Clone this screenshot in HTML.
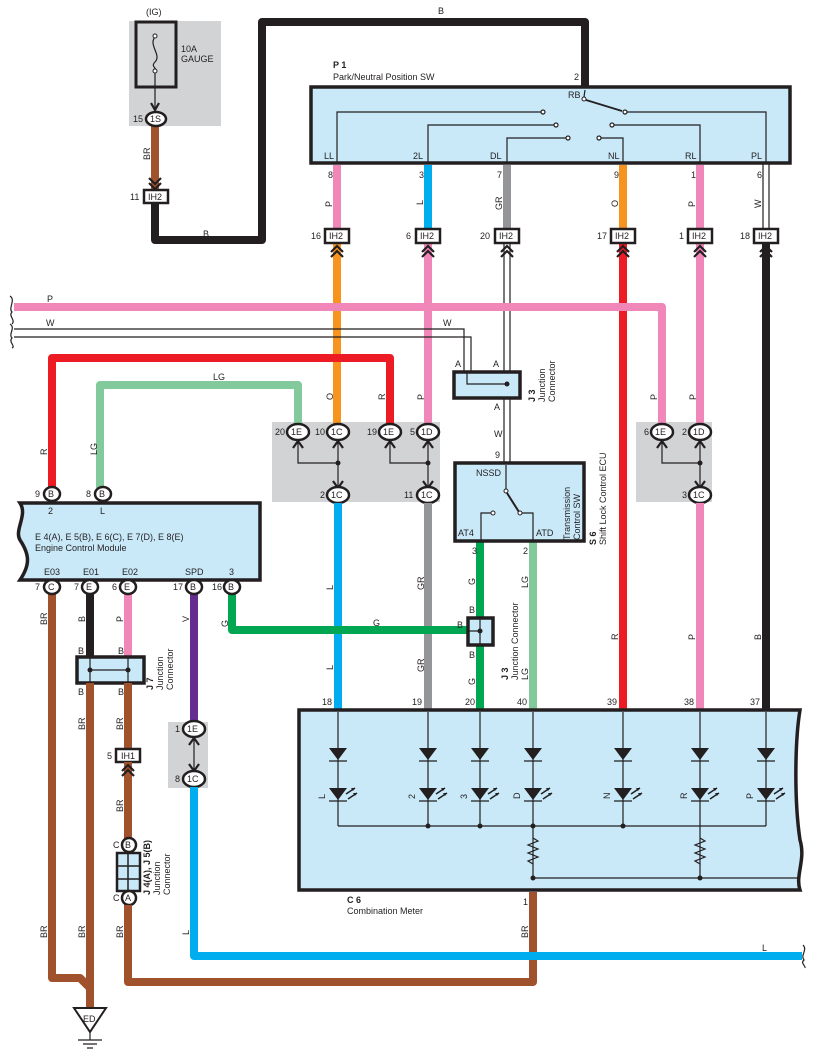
<!DOCTYPE html>
<html><head><meta charset="utf-8"><style>
html,body{margin:0;padding:0;background:#fff}
svg{display:block}
text{font-family:"Liberation Sans",sans-serif;font-size:9px;fill:#231f20}
.w{fill:none;stroke-linejoin:round;stroke-width:8}
.t{fill:none;stroke:#231f20;stroke-width:1.2}
.box{fill:#c9e9f9;stroke:#231f20;stroke-width:3.5}
.c{fill:#fff;stroke:#231f20;stroke-width:2.5}
.ch{fill:none;stroke:#231f20;stroke-width:2.2}
</style></head><body>
<svg width="817" height="1062" viewBox="0 0 817 1062" xmlns="http://www.w3.org/2000/svg">
<!-- gray boxes -->
<rect x="129" y="21" width="92" height="105" fill="#d1d3d4"/>
<rect x="272" y="422" width="168" height="80" fill="#d1d3d4"/>
<rect x="636" y="422" width="76" height="80" fill="#d1d3d4"/>
<rect x="168" y="722" width="40" height="66" fill="#d1d3d4"/>

<!-- fuse -->
<text x="146" y="15">(IG)</text>
<rect x="136" y="22" width="40" height="65" fill="none" stroke="#231f20" stroke-width="3"/>
<path d="M155 37 C148 45,162 55,155 62 C150 67,158 68,155 71" class="t" stroke-width="1.6"/>
<circle cx="155" cy="36" r="2" fill="#fff" stroke="#231f20"/><circle cx="155" cy="71" r="2" fill="#fff" stroke="#231f20"/>
<line x1="155" y1="73" x2="155" y2="110" class="t"/>
<path d="M151 103 L155 110 L159 103" class="ch"/>
<text x="181" y="52">10A</text><text x="181" y="62">GAUGE</text>

<!-- BR from fuse -->
<line x1="155" y1="126" x2="155" y2="190" stroke="#a0522d" stroke-width="8"/>
<ellipse cx="156" cy="119" rx="10" ry="7" class="c"/><text x="150" y="122">1S</text><text x="133" y="122">15</text>
<text x="150" y="160" transform="rotate(-90 150 160)">BR</text>
<path d="M149 178 L155 184 L161 178 M149 183 L155 189 L161 183" class="ch"/>
<rect x="144" y="190" width="24" height="13" fill="#fff" stroke="#231f20" stroke-width="2.5"/><text x="148" y="200">IH2</text><text x="130" y="200">11</text>
<path class="w" stroke="#231f20" d="M155 203 V240 H262 V22 H585 V86"/>
<text x="203" y="237">B</text><text x="438" y="14">B</text>

<!-- P1 box -->
<text x="333" y="68" font-weight="bold">P 1</text>
<text x="333" y="80">Park/Neutral Position SW</text>
<text x="574" y="80">2</text>
<rect x="311" y="87" width="479" height="76" class="box"/>
<text x="568" y="98">RB</text>
<circle cx="584" cy="99" r="2" fill="#fff" stroke="#231f20"/>
<line x1="585" y1="90" x2="584" y2="97" class="t"/>
<line x1="586" y1="100" x2="622" y2="111" stroke="#231f20" stroke-width="1.8"/>
<path class="t" d="M337 163 V112 H541 M428 163 V125 H554 M507 163 V138 H566 M601 138 H623 V163 M614 125 H700 V163 M627 112 H766 V163"/>
<g fill="#fff" stroke="#231f20" stroke-width="1.2">
<circle cx="543" cy="112" r="2"/><circle cx="556" cy="125" r="2"/><circle cx="568" cy="138" r="2"/>
<circle cx="599" cy="138" r="2"/><circle cx="612" cy="125" r="2"/><circle cx="625" cy="112" r="2"/></g>
<text x="324" y="159">LL</text><text x="413" y="159">2L</text><text x="490" y="159">DL</text><text x="608" y="159">NL</text><text x="685" y="159">RL</text><text x="751" y="159">PL</text>
<text x="328" y="178">8</text><text x="419" y="178">3</text><text x="497" y="178">7</text><text x="614" y="178">9</text><text x="691" y="178">1</text><text x="757" y="178">6</text>

<!-- wires P1 to IH2 -->
<line x1="337" y1="165" x2="337" y2="229" stroke="#f087b8" stroke-width="8"/>
<line x1="428" y1="165" x2="428" y2="229" stroke="#00aeef" stroke-width="8"/>
<line x1="507" y1="165" x2="507" y2="229" stroke="#939598" stroke-width="8"/>
<line x1="623" y1="165" x2="623" y2="229" stroke="#f7941d" stroke-width="8"/>
<line x1="700" y1="165" x2="700" y2="229" stroke="#f087b8" stroke-width="8"/>
<path d="M763 163 V229 M769 163 V229" class="t"/>
<g font-size="9">
<text x="332" y="207" transform="rotate(-90 332 207)">P</text>
<text x="423" y="205" transform="rotate(-90 423 205)">L</text>
<text x="502" y="210" transform="rotate(-90 502 210)">GR</text>
<text x="618" y="207" transform="rotate(-90 618 207)">O</text>
<text x="695" y="207" transform="rotate(-90 695 207)">P</text>
<text x="761" y="208" transform="rotate(-90 761 208)">W</text></g>

<!-- lower wires from IH2 -->
<line x1="337" y1="244" x2="337" y2="425" stroke="#f7941d" stroke-width="8"/>
<line x1="428" y1="244" x2="428" y2="425" stroke="#f087b8" stroke-width="8"/>
<path d="M504 244 V463 M510 244 V463" class="t"/>
<line x1="623" y1="244" x2="623" y2="710" stroke="#ed1c24" stroke-width="8"/>
<line x1="700" y1="244" x2="700" y2="425" stroke="#f087b8" stroke-width="8"/>
<line x1="766" y1="244" x2="766" y2="710" stroke="#231f20" stroke-width="8"/>

<!-- IH2 connectors -->
<g>
<rect x="325" y="229" width="24" height="14" fill="#fff" stroke="#231f20" stroke-width="2.5"/><text x="329" y="239">IH2</text><text x="311" y="239">16</text>
<rect x="416" y="229" width="24" height="14" fill="#fff" stroke="#231f20" stroke-width="2.5"/><text x="420" y="239">IH2</text><text x="406" y="239">6</text>
<rect x="495" y="229" width="24" height="14" fill="#fff" stroke="#231f20" stroke-width="2.5"/><text x="499" y="239">IH2</text><text x="480" y="239">20</text>
<rect x="611" y="229" width="24" height="14" fill="#fff" stroke="#231f20" stroke-width="2.5"/><text x="615" y="239">IH2</text><text x="597" y="239">17</text>
<rect x="688" y="229" width="24" height="14" fill="#fff" stroke="#231f20" stroke-width="2.5"/><text x="692" y="239">IH2</text><text x="679" y="239">1</text>
<rect x="754" y="229" width="24" height="14" fill="#fff" stroke="#231f20" stroke-width="2.5"/><text x="758" y="239">IH2</text><text x="740" y="239">18</text>
</g>
<g class="ch">
<path d="M331 252 L337 246 L343 252 M331 257 L337 251 L343 257"/>
<path d="M422 252 L428 246 L434 252 M422 257 L428 251 L434 257"/>
<path d="M501 252 L507 246 L513 252 M501 257 L507 251 L513 257"/>
<path d="M617 252 L623 246 L629 252 M617 257 L623 251 L629 257"/>
<path d="M694 252 L700 246 L706 252 M694 257 L700 251 L706 257"/>
<path d="M760 252 L766 246 L772 252 M760 257 L766 251 L772 257"/>
</g>

<!-- P and W long wires -->
<path class="w" stroke="#f087b8" d="M14 307 H662 V425"/>
<path d="M14 329 H464 V372 M14 337 H471 V372" class="t"/>
<path d="M10 296 C16 300,8 308,12 312 C8 316,16 320,12 324 M10 324 C16 328,8 334,12 338 C8 342,16 346,12 348" class="t" stroke-width="2"/>
<text x="47" y="302">P</text><text x="46" y="326">W</text><text x="443" y="326">W</text>
<text x="455" y="367">A</text><text x="493" y="367">A</text>

<!-- J3 -->
<rect x="454" y="372" width="66" height="26" class="box" stroke-width="3"/>
<path d="M467 372 V384 H507" class="t"/><circle cx="507" cy="384" r="2.5" fill="#231f20"/>
<text x="494" y="410">A</text><text x="494" y="437">W</text><text x="495" y="458">9</text>
<text x="535" y="402" transform="rotate(-90 535 402)" font-weight="bold">J 3</text>
<text x="545" y="402" transform="rotate(-90 545 402)">Junction</text>
<text x="555" y="402" transform="rotate(-90 555 402)">Connector</text>

<!-- R, LG wires -->
<path class="w" stroke="#ed1c24" d="M390 425 V358 H52 V488"/>
<path class="w" stroke="#82ca9c" d="M298 425 V385 H100 V488"/>
<text x="47" y="455" transform="rotate(-90 47 455)">R</text>
<text x="97" y="455" transform="rotate(-90 97 455)">LG</text>
<text x="213" y="380">LG</text>
<text x="333" y="400" transform="rotate(-90 333 400)">O</text>
<text x="385" y="400" transform="rotate(-90 385 400)">R</text>
<text x="424" y="400" transform="rotate(-90 424 400)">P</text>
<text x="657" y="400" transform="rotate(-90 657 400)">P</text>
<text x="696" y="400" transform="rotate(-90 696 400)">P</text>

<!-- middle gray box internals -->
<path class="t" d="M298 440 V463 H338 M338 440 V490 M390 440 V463 H428 M428 440 V490 M662 440 V463 H700 M700 440 V490"/>
<g fill="#231f20"><circle cx="338" cy="463" r="2.5"/><circle cx="428" cy="463" r="2.5"/><circle cx="700" cy="463" r="2.5"/></g>
<g class="ch">
<path d="M293 448 L298 441 L303 448"/><path d="M333 448 L338 441 L343 448"/><path d="M385 448 L390 441 L395 448"/><path d="M423 448 L428 441 L433 448"/>
<path d="M657 448 L662 441 L667 448"/><path d="M695 448 L700 441 L705 448"/>
<path d="M333 481 L338 488 L343 481"/><path d="M423 481 L428 488 L433 481"/><path d="M695 481 L700 488 L705 481"/>
</g>
<g>
<ellipse cx="298" cy="432" rx="11" ry="8" class="c"/><text x="291" y="435">1E</text><text x="275" y="435">20</text>
<ellipse cx="338" cy="432" rx="11" ry="8" class="c"/><text x="331" y="435">1C</text><text x="315" y="435">10</text>
<ellipse cx="390" cy="432" rx="11" ry="8" class="c"/><text x="383" y="435">1E</text><text x="367" y="435">19</text>
<ellipse cx="428" cy="432" rx="11" ry="8" class="c"/><text x="421" y="435">1D</text><text x="410" y="435">5</text>
<ellipse cx="338" cy="495" rx="11" ry="8" class="c"/><text x="331" y="498">1C</text><text x="320" y="498">2</text>
<ellipse cx="428" cy="495" rx="11" ry="8" class="c"/><text x="421" y="498">1C</text><text x="404" y="498">11</text>
<ellipse cx="662" cy="432" rx="11" ry="8" class="c"/><text x="655" y="435">1E</text><text x="644" y="435">6</text>
<ellipse cx="700" cy="432" rx="11" ry="8" class="c"/><text x="693" y="435">1D</text><text x="682" y="435">2</text>
<ellipse cx="700" cy="495" rx="11" ry="8" class="c"/><text x="693" y="498">1C</text><text x="682" y="498">3</text>
</g>

<!-- wires to C6 -->
<line x1="338" y1="503" x2="338" y2="710" stroke="#00aeef" stroke-width="8"/>
<line x1="428" y1="503" x2="428" y2="710" stroke="#939598" stroke-width="8"/>
<line x1="700" y1="503" x2="700" y2="710" stroke="#f087b8" stroke-width="8"/>
<line x1="480" y1="541" x2="480" y2="710" stroke="#00a651" stroke-width="8"/>
<line x1="533" y1="541" x2="533" y2="710" stroke="#82ca9c" stroke-width="8"/>
<path class="w" stroke="#00a651" d="M232 592 V630 H470"/>
<text x="333" y="670" transform="rotate(-90 333 670)">L</text>
<text x="424" y="672" transform="rotate(-90 424 672)">GR</text>
<text x="424" y="590" transform="rotate(-90 424 590)">GR</text>
<text x="333" y="590" transform="rotate(-90 333 590)">L</text>
<text x="475" y="585" transform="rotate(-90 475 585)">G</text>
<text x="475" y="685" transform="rotate(-90 475 685)">G</text>
<text x="528" y="588" transform="rotate(-90 528 588)">LG</text>
<text x="618" y="640" transform="rotate(-90 618 640)">R</text>
<text x="695" y="640" transform="rotate(-90 695 640)">P</text>
<text x="761" y="640" transform="rotate(-90 761 640)">B</text>
<text x="228" y="627" transform="rotate(-90 228 627)">G</text>
<text x="373" y="626">G</text>

<!-- small J3 -->
<rect x="468" y="618" width="25" height="27" class="box" stroke-width="3"/>
<path d="M480 618 V645 M468 631 H480" class="t"/><circle cx="480" cy="631" r="2.5" fill="#231f20"/>
<text x="469" y="613">B</text><text x="457" y="628">B</text><text x="469" y="658">B</text>
<text x="508" y="680" transform="rotate(-90 508 680)" font-weight="bold">J 3</text>
<text x="518" y="680" transform="rotate(-90 518 680)">Junction Connector</text>
<text x="528" y="680" transform="rotate(-90 528 680)">LG</text>

<!-- S6 -->
<rect x="455" y="463" width="129" height="78" class="box" stroke-width="3"/>
<text x="476" y="476">NSSD</text>
<line x1="506" y1="465" x2="506" y2="489" class="t"/>
<circle cx="506" cy="491" r="2" fill="#fff" stroke="#231f20"/>
<line x1="507" y1="493" x2="519" y2="512" stroke="#231f20" stroke-width="2"/>
<circle cx="493" cy="513" r="2" fill="#fff" stroke="#231f20"/><circle cx="520" cy="513" r="2" fill="#fff" stroke="#231f20"/>
<path class="t" d="M491 513 H481 V541 M522 513 H533 V541"/>
<text x="458" y="536">AT4</text><text x="536" y="536">ATD</text>
<text x="570" y="540" transform="rotate(-90 570 540)">Transmission</text>
<text x="580" y="540" transform="rotate(-90 580 540)">Control SW</text>
<text x="596" y="545" transform="rotate(-90 596 545)" font-weight="bold">S 6</text>
<text x="606" y="545" transform="rotate(-90 606 545)">Shift Lock Control ECU</text>
<text x="472" y="554">3</text><text x="523" y="554">2</text>

<!-- ECM -->
<path d="M20 503 H260 V580 H20 C30 565,30 555,20 540 C14 530,28 515,20 503 Z" class="box" stroke-width="3"/>
<ellipse cx="52" cy="494" rx="8" ry="7" class="c"/><text x="48" y="497">B</text><text x="35" y="497">9</text>
<ellipse cx="103" cy="494" rx="8" ry="7" class="c"/><text x="99" y="497">B</text><text x="86" y="497">8</text>
<text x="48" y="514">2</text><text x="100" y="514">L</text>
<text x="35" y="540" font-size="9.5">E 4(A), E 5(B), E 6(C), E 7(D), E 8(E)</text>
<text x="35" y="551">Engine Control Module</text>
<text x="44" y="575">E03</text><text x="83" y="575">E01</text><text x="122" y="575">E02</text><text x="185" y="575">SPD</text><text x="229" y="575">3</text>
<line x1="52" y1="592" x2="52" y2="978" stroke="#a0522d" stroke-width="8"/>
<line x1="90" y1="592" x2="90" y2="657" stroke="#231f20" stroke-width="8"/>
<line x1="128" y1="592" x2="128" y2="657" stroke="#f087b8" stroke-width="8"/>
<line x1="194" y1="592" x2="194" y2="725" stroke="#662d91" stroke-width="8"/>
<g>
<ellipse cx="52" cy="587" rx="8" ry="7" class="c"/><text x="48" y="590">C</text><text x="35" y="590">7</text>
<ellipse cx="90" cy="587" rx="8" ry="7" class="c"/><text x="86" y="590">E</text><text x="74" y="590">7</text>
<ellipse cx="128" cy="587" rx="8" ry="7" class="c"/><text x="124" y="590">E</text><text x="112" y="590">6</text>
<ellipse cx="194" cy="587" rx="8" ry="7" class="c"/><text x="190" y="590">B</text><text x="173" y="590">17</text>
<ellipse cx="232" cy="587" rx="8" ry="7" class="c"/><text x="228" y="590">B</text><text x="212" y="590">16</text>
</g>
<text x="47" y="625" transform="rotate(-90 47 625)">BR</text>
<text x="85" y="622" transform="rotate(-90 85 622)">B</text>
<text x="123" y="622" transform="rotate(-90 123 622)">P</text>
<text x="189" y="622" transform="rotate(-90 189 622)">V</text>

<!-- J7 -->
<text x="78" y="654">B</text><text x="118" y="654">B</text>
<rect x="77" y="657" width="67" height="26" class="box" stroke-width="3"/>
<path class="t" d="M90 657 V683 M128 657 V683 M90 670 H128"/>
<circle cx="90" cy="670" r="2.5" fill="#231f20"/><circle cx="128" cy="670" r="2.5" fill="#231f20"/>
<text x="78" y="695">B</text><text x="118" y="695">B</text>
<text x="153" y="690" transform="rotate(-90 153 690)" font-weight="bold">J 7</text>
<text x="163" y="690" transform="rotate(-90 163 690)">Junction</text>
<text x="173" y="690" transform="rotate(-90 173 690)">Connector</text>
<line x1="90" y1="683" x2="90" y2="1020" stroke="#a0522d" stroke-width="8"/>
<line x1="128" y1="683" x2="128" y2="750" stroke="#a0522d" stroke-width="8"/>
<text x="85" y="730" transform="rotate(-90 85 730)">BR</text>
<text x="123" y="730" transform="rotate(-90 123 730)">BR</text>
<rect x="116" y="749" width="24" height="13" fill="#fff" stroke="#231f20" stroke-width="2.5"/><text x="121" y="759">IH1</text><text x="107" y="759">5</text>
<line x1="128" y1="762" x2="128" y2="840" stroke="#a0522d" stroke-width="8"/>
<path d="M122 771 L128 765 L134 771 M122 776 L128 770 L134 776" class="ch"/>
<text x="123" y="812" transform="rotate(-90 123 812)">BR</text>

<!-- J4/J5 -->
<rect x="117" y="853" width="23" height="38" fill="#c9e9f9" stroke="#231f20" stroke-width="2.5"/>
<path d="M128 853 V891 M117 866 H140 M117 879 H140" stroke="#231f20" stroke-width="1.5"/>
<ellipse cx="129" cy="845" rx="7" ry="7" class="c"/><text x="125" y="848">B</text><text x="113" y="848">C</text>
<ellipse cx="129" cy="898" rx="7" ry="7" class="c"/><text x="125" y="901">A</text><text x="113" y="901">C</text>
<text x="150" y="895" transform="rotate(-90 150 895)" font-weight="bold">J 4(A), J 5(B)</text>
<text x="160" y="895" transform="rotate(-90 160 895)">Junction</text>
<text x="170" y="895" transform="rotate(-90 170 895)">Connector</text>
<path class="w" stroke="#a0522d" d="M128 905 V982 H533 V892"/>
<text x="47" y="938" transform="rotate(-90 47 938)">BR</text>
<text x="85" y="938" transform="rotate(-90 85 938)">BR</text>
<text x="123" y="938" transform="rotate(-90 123 938)">BR</text>
<text x="528" y="938" transform="rotate(-90 528 938)">BR</text>
<path class="w" stroke="#a0522d" d="M52 975 V978 H80 L90 988"/>

<!-- ground -->
<path d="M74 1008 H106 L90 1032 Z" fill="#fff" stroke="#231f20" stroke-width="2"/>
<text x="83" y="1022">ED</text>
<path d="M90 1032 V1040 M78 1040 H102 M83 1044 H97 M87 1048 H93" class="t"/>

<!-- SPD 1E/1C -->
<path class="t" d="M194 737 V772"/>
<path class="ch" d="M189 745 L194 738 L199 745 M189 764 L194 771 L199 764"/>
<ellipse cx="194" cy="729" rx="11" ry="8" class="c"/><text x="187" y="732">1E</text><text x="175" y="732">1</text>
<ellipse cx="194" cy="779" rx="11" ry="8" class="c"/><text x="187" y="782">1C</text><text x="175" y="782">8</text>
<path class="w" stroke="#00aeef" d="M194 787 V956 H802"/>
<text x="189" y="935" transform="rotate(-90 189 935)">L</text>
<text x="762" y="951">L</text>
<path d="M803 945 C808 950,800 955,804 960 C800 963,806 966,805 968" class="t" stroke-width="2"/>

<!-- C6 -->
<path d="M299 710 H800 C795 740,794 800,800 840 C806 860,795 875,800 890 H299 Z" class="box" stroke-width="3"/>
<text x="347" y="903" font-weight="bold">C 6</text>
<text x="347" y="914">Combination Meter</text>
<text x="523" y="905">1</text>
<g font-size="8">
<text x="322" y="705">18</text><text x="412" y="705">19</text><text x="465" y="705">20</text><text x="517" y="705">40</text><text x="607" y="705">39</text><text x="684" y="705">38</text><text x="750" y="705">37</text></g>
<path class="t" stroke-width="1.3" d="M338 712 V826 M428 712 V826 M480 712 V826 M533 712 V878 M623 712 V826 M700 712 V878 M766 712 V826 M338 826 H766 M533 878 H798"/>
<g fill="#231f20">
<circle cx="428" cy="826" r="2.5"/><circle cx="480" cy="826" r="2.5"/><circle cx="533" cy="826" r="2.5"/><circle cx="623" cy="826" r="2.5"/>
<circle cx="533" cy="878" r="2.5"/><circle cx="700" cy="878" r="2.5"/>
</g>
<defs>
<g id="d"><path d="M-9 -8 H9 L0 4 Z" fill="#231f20"/><path d="M-9 5 H9" stroke="#231f20" stroke-width="1.3"/></g>
<g id="l"><path d="M-9 -8 H9 L0 4 Z" fill="#231f20"/><path d="M-9 5 H9" stroke="#231f20" stroke-width="1.3"/><path d="M8 -2 L17 -8 M10 3 L19 -3" stroke="#231f20" stroke-width="1.5"/><path d="M17 -8 l-4 0 l2 3Z M19 -3 l-4 0 l2 3Z" fill="#231f20"/></g>
</defs>
<use href="#d" x="338" y="756"/><use href="#d" x="428" y="756"/><use href="#d" x="480" y="756"/><use href="#d" x="533" y="756"/><use href="#d" x="623" y="756"/><use href="#d" x="700" y="756"/><use href="#d" x="766" y="756"/>
<use href="#l" x="338" y="796"/><use href="#l" x="428" y="796"/><use href="#l" x="480" y="796"/><use href="#l" x="533" y="796"/><use href="#l" x="623" y="796"/><use href="#l" x="700" y="796"/><use href="#l" x="766" y="796"/>
<g font-size="9">
<text x="325" y="799" transform="rotate(-90 325 799)">L</text>
<text x="415" y="799" transform="rotate(-90 415 799)">2</text>
<text x="467" y="799" transform="rotate(-90 467 799)">3</text>
<text x="520" y="799" transform="rotate(-90 520 799)">D</text>
<text x="610" y="799" transform="rotate(-90 610 799)">N</text>
<text x="687" y="799" transform="rotate(-90 687 799)">R</text>
<text x="753" y="799" transform="rotate(-90 753 799)">P</text></g>
<path class="t" stroke-width="1.3" d="M533 838 l5 3 l-10 4 l10 4 l-10 4 l10 4 l-10 4 l5 3 M700 838 l5 3 l-10 4 l10 4 l-10 4 l10 4 l-10 4 l5 3"/>
</svg>
</body></html>
